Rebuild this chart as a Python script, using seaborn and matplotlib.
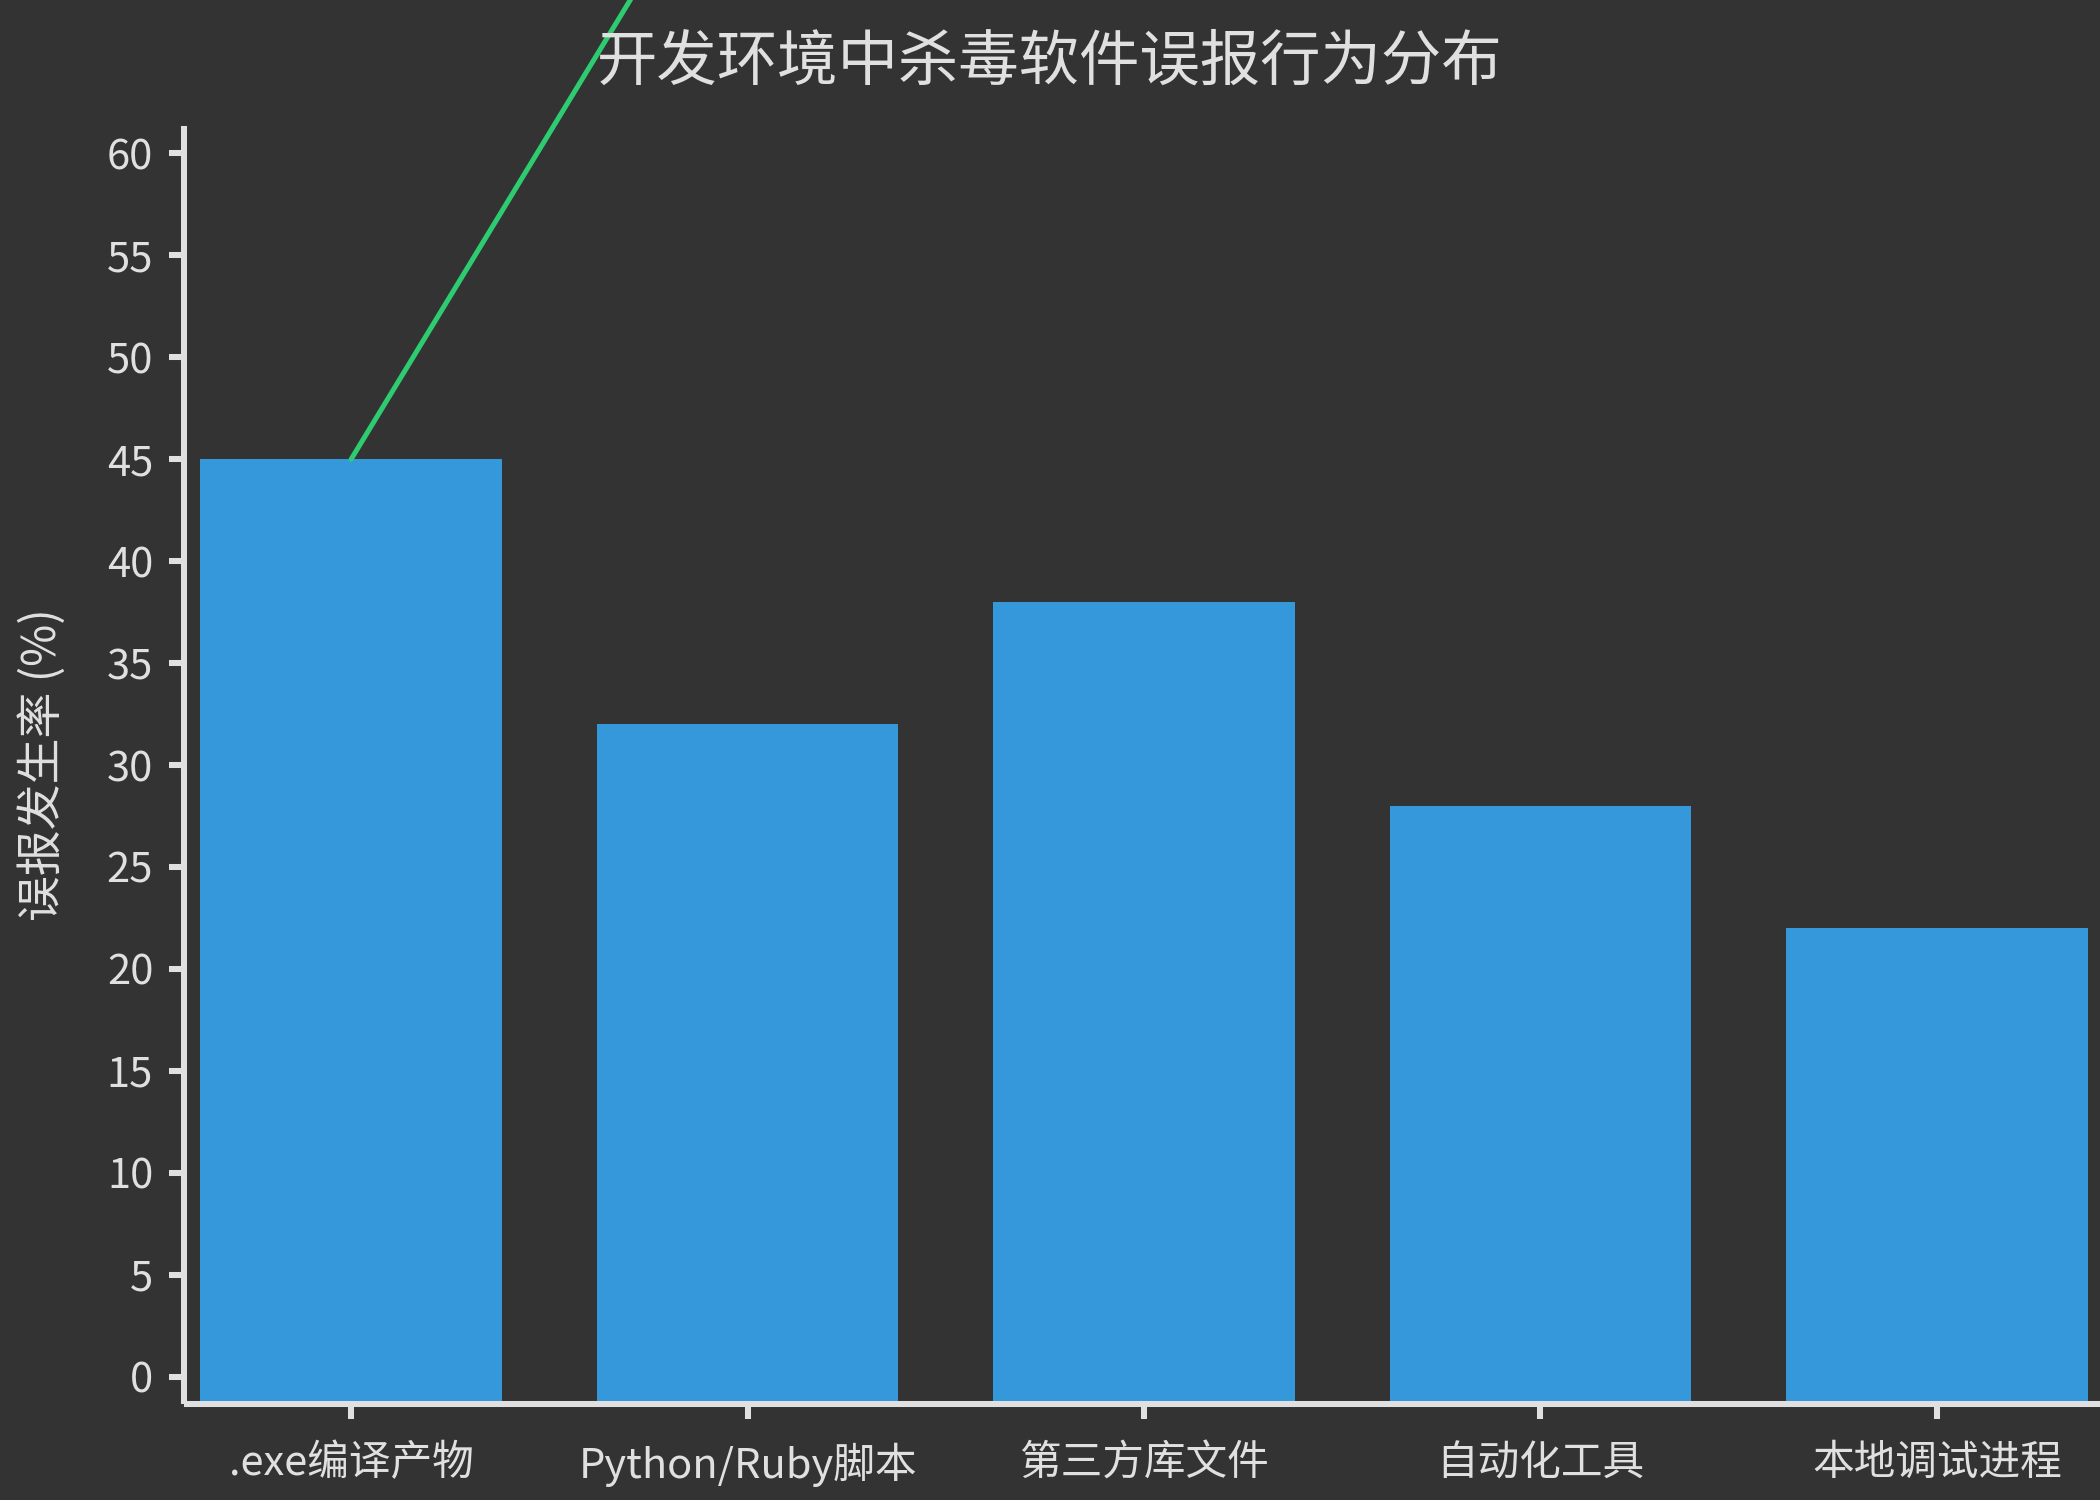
import numpy as np
import pandas as pd
import matplotlib
matplotlib.use("Agg")
import matplotlib.pyplot as plt
import seaborn as sns

categories = [".exe编译产物", "Python/Ruby脚本", "第三方库文件", "自动化工具", "本地调试进程"]
rates = [45, 32, 38, 28, 22]
cumulative = [45, 77, 115, 143, 165]
yticks = list(range(0, 61, 5))

BG = "#333333"
FG = "#e0e0e0"
BAR = "#3498db"
LINE = "#2ecc71"

sns.set_theme(style="dark")
plt.rcParams["font.family"] = ["Noto Sans CJK SC", "DejaVu Sans"]

fig = plt.figure(figsize=(14, 10), dpi=150, facecolor=BG)
ax = fig.add_axes([187 / 2100, 1 - 1401 / 1500, (2101 - 187) / 2100, (1401 - 129) / 1500])
ax.set_facecolor(BG)

df = pd.DataFrame({"cat": categories, "rate": rates, "cum": cumulative})
sns.barplot(data=df, x="cat", y="rate", color=BAR, saturation=1, width=0.76, ax=ax)

ylo, yhi = -1.2, 61.2
for p in ax.patches:
    h = p.get_height()
    p.set_y(ylo)
    p.set_height(h - ylo)
    p.set_linewidth(0)

sns.lineplot(x=np.arange(len(categories)), y=df["cum"], color=LINE, linewidth=2.4, ax=ax,
             clip_on=False, zorder=5)

ax.set_ylim(ylo, yhi)
ax.set_xlim(-0.414, 4.414)
ax.set_yticks(yticks)
ax.set_xticks(range(len(categories)))
ax.set_xticklabels(categories)

ax.grid(False)
for s in ["top", "right"]:
    ax.spines[s].set_visible(False)
for s in ["left", "bottom"]:
    ax.spines[s].set_visible(True)
    ax.spines[s].set_color(FG)
    ax.spines[s].set_linewidth(2.9)
    ax.spines[s].set_position(("outward", 1.5))

ax.tick_params(axis="both", colors=FG, labelcolor=FG, length=7.2, width=2.9, pad=7.5,
               labelsize=20, left=True, bottom=True)
ax.tick_params(axis="x", pad=11.5)

ax.set_xlabel("")
ax.set_ylabel("误报发生率 (%)", fontsize=22, color=FG)
ax.yaxis.set_label_coords(-0.063, 0.5)

fig.suptitle("开发环境中杀毒软件误报行为分布", x=0.5, y=1 - 62 / 1500, va="center",
             fontsize=29, color=FG)

fig.savefig("out.png", dpi=150, facecolor=BG)
